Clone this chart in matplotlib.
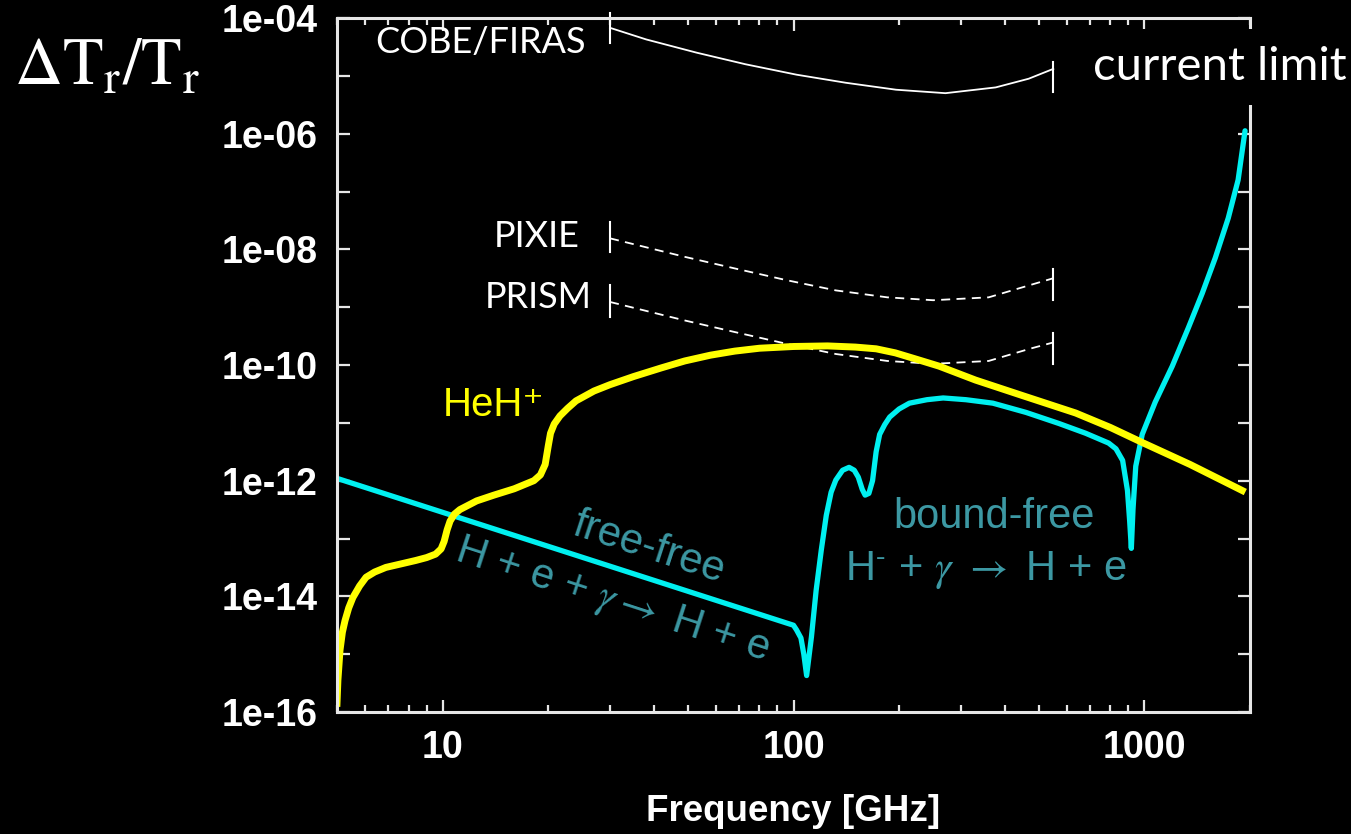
import numpy as np
import matplotlib.pyplot as plt

plt.rcParams['mathtext.fontset'] = 'stix'

# HeH+ induced distortion, frequency in GHz and log10(dT/T)
heh_freq = [5.0, 5.03, 5.1, 5.18, 5.27, 5.4, 5.55, 5.8, 6.05, 6.4, 6.89, 7.6, 8.38, 9.0,
            9.55, 9.9, 10.1, 10.3, 10.5, 10.8, 11.2, 12.5, 14.0, 16.0, 18.2, 19.0, 19.6,
            20.0, 20.3, 20.8, 21.6, 22.7, 24.0, 27.0, 30.0, 35.0, 42.0, 49.0, 58.0, 68.0,
            80.0, 100.0, 125.0, 150.0, 172.0, 195.0, 224.0, 260.0, 330.0, 450.0, 637.0,
            800.0, 986.0, 1350.0, 1900.0]
heh_log = [-15.85, -15.45, -14.93, -14.62, -14.42, -14.2, -14.02, -13.82, -13.67, -13.58,
           -13.5, -13.44, -13.38, -13.33, -13.27, -13.18, -13.05, -12.85, -12.7, -12.58,
           -12.5, -12.35, -12.25, -12.14, -12.0, -11.9, -11.72, -11.4, -11.18, -11.02,
           -10.88, -10.75, -10.62, -10.45, -10.34, -10.2, -10.05, -9.93, -9.83, -9.76,
           -9.71, -9.68, -9.67, -9.69, -9.72, -9.79, -9.9, -10.02, -10.26, -10.53, -10.83,
           -11.08, -11.34, -11.72, -12.17]

# H- free-free and bound-free
hm_freq = [5.0, 100.0, 102.0, 105.0, 107.0, 109.0, 112.5, 116.0, 120.0, 124.0, 128.0,
           132.0, 138.0, 144.0, 149.0, 153.0, 157.0, 160.0, 164.0, 168.0, 172.0, 176.0,
           182.0, 188.0, 200.0, 214.0, 240.0, 267.0, 310.0, 370.0, 460.0, 570.0, 680.0,
           791.0, 830.0, 867.0, 895.0, 908.0, 918.0, 928.0, 945.0, 986.0, 1074.0, 1201.0,
           1334.0, 1462.0, 1592.0, 1734.0, 1850.0, 1936.0]
hm_log = [-11.96, -14.5, -14.58, -14.72, -15.0, -15.37, -14.7, -13.9, -13.2, -12.6, -12.2,
          -11.99, -11.82, -11.77, -11.82, -11.94, -12.15, -12.25, -12.22, -12.0, -11.5,
          -11.2, -11.03, -10.9, -10.76, -10.66, -10.6, -10.57, -10.6, -10.66, -10.82,
          -11.01, -11.18, -11.35, -11.45, -11.65, -12.17, -12.7, -13.17, -12.5, -11.75,
          -11.2, -10.64, -10.02, -9.36, -8.76, -8.15, -7.46, -6.8, -5.95]

# spectrometer sensitivities
cobe_freq = [30, 38, 53, 73, 102, 141, 196, 271, 377, 468, 550]
cobe_log = [-4.17, -4.37, -4.6, -4.8, -4.98, -5.12, -5.24, -5.3, -5.2, -5.05, -4.88]
pixie_freq = [30, 49, 68, 95, 132, 185, 250, 360, 471, 550]
pixie_log = [-7.81, -8.13, -8.33, -8.53, -8.71, -8.83, -8.88, -8.83, -8.62, -8.5]
prism_freq = [30, 49, 68, 95, 132, 185, 250, 360, 471, 550]
prism_log = [-8.91, -9.23, -9.43, -9.63, -9.81, -9.93, -9.98, -9.93, -9.72, -9.61]

# band edge markers: (freq, log top, log bottom)
band_edges = [(30, -3.91, -4.43), (550, -4.76, -5.28),
              (30, -7.53, -8.05), (550, -8.34, -8.88),
              (30, -8.62, -9.17), (550, -9.45, -9.99)]

ytick_exp = list(range(-16, -3))
ytick_labels = ['1e%03d' % e if e % 2 == 0 else '' for e in ytick_exp]
xtick_vals = [10, 100, 1000]

teal = '#3c98a3'
fg = '#e6e6e6'

fig = plt.figure(figsize=(13.51, 8.34), dpi=100, facecolor='black')
ax = fig.add_axes([337/1351, 1 - 712/834, 913/1351, 694/834], facecolor='black')

ax.plot(cobe_freq, 10**np.array(cobe_log), color='white', lw=1.3)
ax.plot(pixie_freq, 10**np.array(pixie_log), color='white', lw=1.3, ls=(0, (5, 3.5)))
ax.plot(prism_freq, 10**np.array(prism_log), color='white', lw=1.3, ls=(0, (5, 3.5)))
for f, top, bot in band_edges:
    ax.plot([f, f], [10**top, 10**bot], color='white', lw=1.5, clip_on=False)

ax.plot(hm_freq, 10**np.array(hm_log), color='#00f0f0', lw=3.8,
        solid_joinstyle='round', solid_capstyle='round')
ax.plot(heh_freq, 10**np.array(heh_log), color='#ffff00', lw=5.0,
        solid_joinstyle='round')

ax.set_xscale('log')
ax.set_yscale('log')
ax.set_xlim(5, 2000)
ax.set_ylim(1e-16, 1e-4)

ax.set_yticks([10.0**e for e in ytick_exp])
ax.set_yticklabels(ytick_labels)
ax.yaxis.set_minor_locator(plt.NullLocator())
ax.set_xticks(xtick_vals)
ax.set_xticklabels([str(v) for v in xtick_vals])

for sp in ax.spines.values():
    sp.set_color(fg)
    sp.set_linewidth(2.2)
ax.tick_params(which='both', direction='in', top=True, right=True, color=fg,
               labelcolor='white', labelsize=27, width=1.6)
ax.tick_params(which='major', length=9)
ax.tick_params(which='minor', length=5)
ax.tick_params(axis='y', pad=14)
ax.tick_params(axis='x', pad=13)
for lbl in ax.get_xticklabels() + ax.get_yticklabels():
    lbl.set_fontfamily('Liberation Sans')
    lbl.set_fontweight('bold')

ax.set_xlabel('Frequency [GHz]', color='white', fontsize=26.5, fontweight='bold',
              family='Liberation Sans', labelpad=20)

# instrument names
lab = dict(color='white', fontsize=26, family='Lato', va='center', ha='right')
ax.text(25.5, 10**-4.42, 'COBE/FIRAS', **lab)
ax.text(24.5, 10**-7.77, 'PIXIE', **lab)
ax.text(26.6, 10**-8.84, 'PRISM', **lab)

# process labels
ax.text(14.0, 10**-10.7, 'HeH\u207a', color='#ffff00', fontsize=29,
        family=['Liberation Sans', 'DejaVu Sans'], ha='center', va='center')
ax.text(38.7, 10**-13.17, 'free-free', color=teal, fontsize=30, family='Liberation Sans',
        rotation=-18, ha='center', va='center', rotation_mode='anchor')
ax.text(30.4, 10**-14.07, r'H + e + $\gamma\rightarrow$ H + e', color=teal, fontsize=30,
        family='Liberation Sans', rotation=-18, ha='center', va='center', rotation_mode='anchor')
ax.text(372, 10**-12.63, 'bound-free', color=teal, fontsize=30, family='Liberation Sans',
        ha='center', va='center')
ax.text(353, 10**-13.55, r'H$^{\text{-}}$ + $\gamma$ $\rightarrow$ H + e', color=teal,
        fontsize=30, family='Liberation Sans', ha='center', va='center')

fig.text(1093/1351, 1 - 67/834, 'current limit', color='white', fontsize=34, family='Lato',
         ha='left', va='center',
         bbox=dict(facecolor='black', edgecolor='none', boxstyle='square,pad=0.35'))
fig.text(14/1351, 1 - 65/834, r'$\Delta\mathrm{T}_\mathrm{r}/\mathrm{T}_\mathrm{r}$',
         color='white', fontsize=48, ha='left', va='center')

fig.savefig('out.png', dpi=100, facecolor='black')
